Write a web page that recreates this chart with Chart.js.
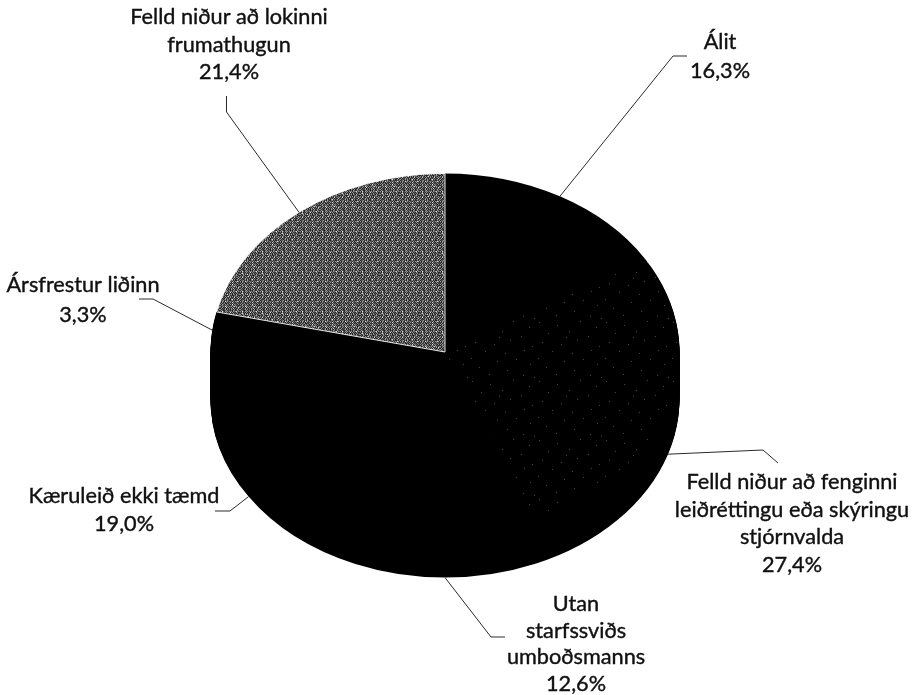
<!DOCTYPE html>
<html lang="is">
<head>
<meta charset="utf-8">
<title>Lyktir mála</title>
<script src="https://cdn.jsdelivr.net/npm/chart.js@4"></script>
<style>
  html, body { margin: 0; padding: 0; background: #fff; }
  canvas { display: block; }
</style>
</head>
<body>
<canvas id="pie" width="919" height="695"></canvas>
<script>
// Slices run clockwise from twelve o'clock
const categories = [
  ['Álit'],
  ['Felld niður að fenginni', 'leiðréttingu eða skýringu', 'stjórnvalda'],
  ['Utan', 'starfssviðs', 'umboðsmanns'],
  ['Kæruleið ekki tæmd'],
  ['Ársfrestur liðinn'],
  ['Felld niður að lokinni', 'frumathugun']
];
const shares = [16.3, 27.4, 12.6, 19.0, 3.3, 21.4];

// Label layout: centre x, first baseline, line height, elbow and end of the leader
const labelLayout = [
  { x: 720, y: 49,  lh: 29,   elbow: [673, 56],  end: [687, 56] },
  { x: 792, y: 489, lh: 27.7, elbow: [763, 450], end: [778, 463] },
  { x: 576, y: 611, lh: 26.5, elbow: [491, 637], end: [505, 637] },
  { x: 124, y: 503, lh: 28,   elbow: [230, 511], end: [215, 511] },
  { x: 83,  y: 292, lh: 30,   elbow: [153, 299], end: [139, 299] },
  { x: 229, y: 24,  lh: 27.5, elbow: [226.5, 112], end: [226.5, 96] }
];

const TILT = 179 / 235;   // squash of the pie's top face
const DEPTH = 47;         // height of the side wall
const INK = '#000';
const LABEL_FONT = '21.7px Lato, "Open Sans", sans-serif';

// Halftone tiles for the two textured slices
function tile(rows, shades) {
  const c = document.createElement('canvas');
  c.width = rows[0].length; c.height = rows.length;
  const g = c.getContext('2d');
  rows.forEach((row, y) => [...row].forEach((ch, x) => {
    g.fillStyle = shades[ch];
    g.fillRect(x, y, 1, 1);
  }));
  const p = g.createPattern(c, 'repeat');
  // undo the squash so the dots stay square
  p.setTransform(new DOMMatrix().scale(1, 1 / TILT));
  return p;
}

const greyTile = tile([
  '20210202102030211020',
  '01201120100121020100',
  '20120312021202312012',
  '10201030201020102031',
  '02010201020203010120',
  '20101202010210201202',
  '02100120110102100210',
  '20310212021202123021',
  '10201020103020102100',
  '02310201020102010201',
  '20120213021202102012',
  '01021000120100112100',
  '20210202302020211020',
  '10301020102010301202',
  '02010211020102010030',
  '20101202010230201201',
  '01120102100120100102',
  '20210312021102021320',
  '10201020102030102010',
  '02012001020102010201'
], { 0: '#222222', 1: '#5a5a5a', 2: '#9a9a9a', 3: '#e6e6e6' });

// Sparse dots on a wide tile, so the repeat doesn't read as a grid
const speckRows = [];
for (let y = 0; y < 59; y++) speckRows.push('.'.repeat(67));
[[3, 2], [21, 5], [44, 1], [60, 7], [12, 13], [33, 11], [52, 16], [6, 22], [25, 24], [41, 20], [63, 26],
 [16, 31], [36, 33], [55, 30], [2, 38], [28, 41], [47, 39], [61, 44], [10, 47], [38, 50], [20, 54], [54, 55], [65, 57], [30, 17]]
  .forEach(([x, y]) => {
    const r = speckRows[y];
    speckRows[y] = r.slice(0, x) + '#' + r.slice(x + 1);
  });
const speckTile = tile(speckRows, { '.': INK, '#': '#4c4c4c' });

// Top face gets squashed, wall is the same arcs stacked downwards in solid ink
const tiltedPie = {
  id: 'tiltedPie',
  beforeDatasetDraw(chart, args) {
    const ctx = chart.ctx;
    const arcs = chart.getDatasetMeta(args.index).data;
    const cy = arcs[0].y;
    const squash = () => {
      ctx.translate(0, cy);
      ctx.scale(1, TILT);
      ctx.translate(0, -cy);
    };
    for (let d = DEPTH; d > 0; d--) {
      ctx.save();
      ctx.translate(0, d);
      squash();
      arcs.forEach(arc => {
        const saved = arc.options;
        arc.options = { ...saved, backgroundColor: INK, borderWidth: 0 };
        arc.draw(ctx);
        arc.options = saved;
      });
      ctx.restore();
    }
    ctx.save();
    squash();
  },
  afterDatasetDraw(chart) {
    chart.ctx.restore();
  }
};

// Leaders start on the rim at each slice's middle angle
const sliceLabels = {
  id: 'sliceLabels',
  afterDraw(chart) {
    const ctx = chart.ctx;
    const arcs = chart.getDatasetMeta(0).data;
    ctx.save();
    arcs.forEach((arc, i) => {
      const mid = (arc.startAngle + arc.endAngle) / 2;
      const sy = Math.sin(mid);
      const px = arc.x + arc.outerRadius * Math.cos(mid);
      const py = arc.y + arc.outerRadius * TILT * sy + (sy > 0 ? DEPTH : 0);
      const l = labelLayout[i];
      ctx.beginPath();
      ctx.moveTo(px, py);
      ctx.lineTo(l.elbow[0], l.elbow[1]);
      ctx.lineTo(l.end[0], l.end[1]);
      ctx.strokeStyle = '#2a2a2a';
      ctx.lineWidth = 1;
      ctx.stroke();

      ctx.fillStyle = '#111';
      ctx.strokeStyle = '#111';
      ctx.lineWidth = 0.4;
      ctx.font = LABEL_FONT;
      ctx.textAlign = 'center';
      ctx.textBaseline = 'alphabetic';
      const lines = categories[i].concat(shares[i].toFixed(1).replace('.', ',') + '%');
      lines.forEach((t, n) => {
        ctx.fillText(t, l.x, l.y + n * l.lh);
        ctx.strokeText(t, l.x, l.y + n * l.lh);  // Lato alone is a bit thin here
      });
    });
    ctx.restore();
  }
};

new Chart(document.getElementById('pie'), {
  type: 'pie',
  data: {
    labels: categories.map(c => c.join(' ')),
    datasets: [{
      data: shares,
      backgroundColor: [INK, speckTile, INK, INK, INK, greyTile],
      borderColor: '#fff',
      borderWidth: [0, 0, 0, 0, 0, 1],
      clip: false
    }]
  },
  options: {
    responsive: false,
    animation: false,
    events: [],
    layout: { padding: { left: 210, right: 239, top: 117, bottom: 108 } },
    plugins: { legend: { display: false }, tooltip: { enabled: false } }
  },
  plugins: [tiltedPie, sliceLabels]
});
</script>
</body>
</html>
